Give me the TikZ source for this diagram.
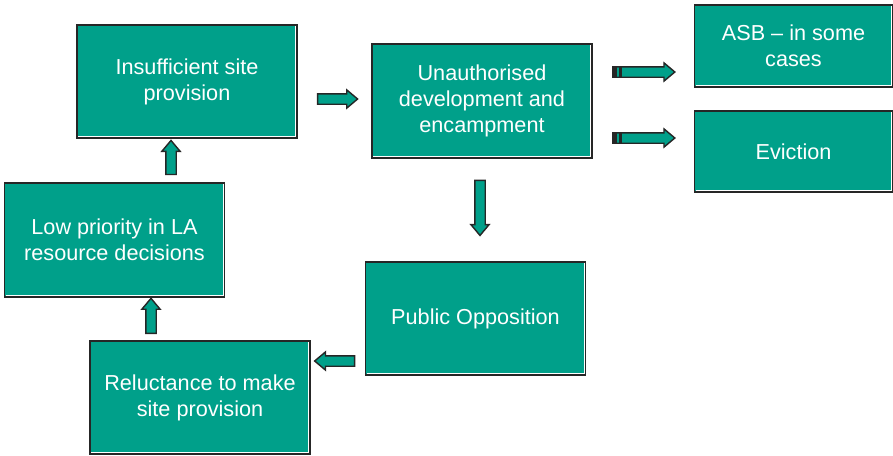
\documentclass[tikz,border=0pt]{standalone}
\usepackage{fontspec}
\setmainfont{Liberation Sans}
\usepackage{tikz}
\usetikzlibrary{shapes,arrows}
\definecolor{boxfill}{RGB}{0,160,138}
\definecolor{boxline}{RGB}{38,38,38}

\begin{document}
\begin{tikzpicture}
[x=0.025cm, y=-0.025cm]
\tikzset{
	stage/.style = {rectangle, draw = boxline, line width = 1.2pt, fill = boxfill, text = white, align = center, inner sep = 0,
		minimum width = 5.5cm, minimum height = 2.83cm, font = \fontsize{15.4}{18.4}\selectfont,
		path picture = {\draw[white, line width = 0.6pt] ([shift={(1pt,1pt)}]path picture bounding box.south west) -- ([shift={(-1pt,1pt)}]path picture bounding box.south east) -- ([shift={(-1pt,-1pt)}]path picture bounding box.north east);}},
	blockarrow/.style = {single arrow, draw = boxline, line width = 1pt, fill = boxfill, inner xsep = 0, inner ysep = 3.2pt,
		single arrow head extend = 2.8pt, single arrow head indent = 0pt, single arrow tip angle = 80, sloped, allow upside down},
	tailbands/.style = {path picture = {
		\fill[boxline] (path picture bounding box.south west) rectangle ([xshift=2.8pt]path picture bounding box.north west);
		\fill[boxline] ([xshift=4.2pt]path picture bounding box.south west) rectangle ([xshift=6.2pt]path picture bounding box.north west);}}
}

\useasboundingbox (0,0) rectangle (893,455);

\node(insuf) [stage] at (187,81.5) {Insufficient site\\provision};
\node(unauth) [stage, minimum height = 2.85cm] at (482,101) {Unauthorised\\development and\\encampment};
\node(asb) [stage, minimum width = 4.95cm, minimum height = 2.05cm] at (793.5,46) {ASB – in some\\cases};
\node(evict) [stage, minimum width = 4.95cm, minimum height = 2.03cm] at (793.5,151.5) {Eviction};
\node(public) [stage] at (475.5,318.5) {Public Opposition};
\node(reluct) [stage] at (200,397.5) {Reluctance to make\\site provision};
\node(lowpri) [stage, minimum height = 2.85cm] at (114.5,240) {Low priority in LA\\resource decisions};

\path (insuf.east |- 0,99) -- node[blockarrow, minimum height = 1cm]{} (unauth.west |- 0,99);
\path (unauth.east |- 0,72) -- node[blockarrow, tailbands, pos = .475, minimum height = 1.55cm]{} (asb.west |- 0,72);
\path (unauth.east |- 0,138) -- node[blockarrow, tailbands, pos = .475, minimum height = 1.55cm]{} (evict.west |- 0,138);
\path (unauth.south -| 480,0) -- node[blockarrow, pos = .45, minimum height = 1.375cm]{} (public.north -| 480,0);
\path (public.west |- 0,361) -- node[blockarrow, minimum height = 1cm]{} (reluct.east |- 0,361);
\path (reluct.north -| 151,0) -- node[blockarrow, minimum height = 0.875cm]{} (lowpri.south -| 151,0);
\path (lowpri.north -| 171,0) -- node[blockarrow, minimum height = 0.85cm]{} (insuf.south -| 171,0);

\end{tikzpicture}
\end{document}
